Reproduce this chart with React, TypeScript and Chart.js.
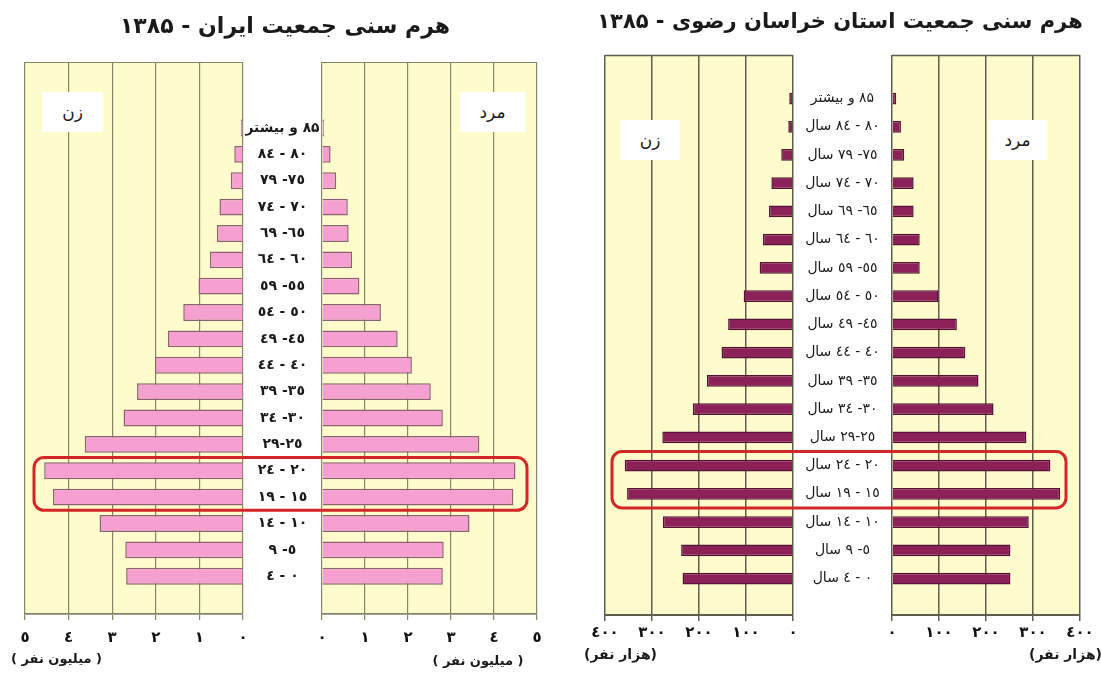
import React, { useEffect, useRef } from 'react';
import { Chart, registerables } from 'chart.js';

Chart.register(...registerables);

const W = 1101;
const H = 679;
const FONT = "'DejaVu Sans', 'Noto Sans', sans-serif";

// ---------- data (top row = 85+, bottom row = 0-4) ----------
const iranAgeLabels = [
  '۸۵ و بیشتر', '٨٠ - ٨٤', '٧٥- ٧٩', '٧٠ - ٧٤', '٦٥- ٦٩', '٦٠ - ٦٤', '٥٥- ٥٩', '٥٠ - ٥٤', '٤٥- ٤٩',
  '٤٠ - ٤٤', '٣٥- ٣٩', '٣٠- ٣٤', '٢٥-٢٩', '٢٠ - ٢٤', '١٥ - ١٩', '١٠ - ١٤', '٥- ٩', '٠ - ٤',
];
const khorasanAgeLabels = [
  '۸۵ و بیشتر', '٨٠ - ٨٤ سال', '٧٥- ٧٩ سال', '٧٠ - ٧٤ سال', '٦٥- ٦٩ سال', '٦٠ - ٦٤ سال', '٥٥- ٥٩ سال',
  '٥٠ - ٥٤ سال', '٤٥- ٤٩ سال', '٤٠ - ٤٤ سال', '٣٥- ٣٩ سال', '٣٠- ٣٤ سال', '٢٥-٢٩ سال', '٢٠ - ٢٤ سال',
  '١٥ - ١٩ سال', '١٠ - ١٤ سال', '٥- ٩ سال', '٠ - ٤ سال',
];

// Iran, millions of people
const iranWomen = [0.05, 0.2, 0.28, 0.54, 0.6, 0.76, 1.02, 1.37, 1.72, 2.02, 2.43, 2.74, 3.63, 4.56, 4.36, 3.29, 2.7, 2.68];
const iranMen = [0.05, 0.2, 0.33, 0.6, 0.62, 0.7, 0.87, 1.37, 1.76, 2.09, 2.53, 2.81, 3.66, 4.5, 4.45, 3.43, 2.83, 2.81];

// Khorasan Razavi, thousands of people
const khorasanWomen = [8, 10, 25, 46, 51, 64, 71, 105, 138, 152, 183, 213, 278, 358, 353, 277, 238, 235];
const khorasanMen = [9, 19, 26, 46, 46, 59, 59, 99, 138, 156, 184, 216, 286, 337, 358, 291, 252, 252];

const iranTicks = ['٠', '١', '٢', '٣', '٤', '٥'];
const khorasanTicks = ['٠', '١٠٠', '٢٠٠', '٣٠٠', '٤٠٠'];

const iranTitle = 'هرم سنی جمعیت ایران - ۱۳۸۵';
const khorasanTitle = 'هرم سنی جمعیت استان خراسان رضوی - ۱۳۸۵';
const womanLabel = 'زن';
const manLabel = 'مرد';
const iranUnit = '( میلیون نفر )';
const khorasanUnit = '(هزار نفر)';

// ---------- chart builder ----------
type Area = { left: number; right: number; top: number; bottom: number };
type Half = {
  values: number[];
  max: number;
  step: number;
  tickLabels: string[];
  reverse: boolean;
  area: Area;
  yMin: number;
  yMax: number;
  fill: string;
  border: string;
  barPct: number;
  grid: string;
  gridWidth: number;
  tickPad: number;
  labels?: string[];
  labelX?: number;
  labelMaxWidth?: number;
  labelFont?: string;
  box?: { left: number; right: number; from: number; to: number };
};

const AXIS_H = 36;

function makeConfig(h: Half): any {
  const panelPlugin = {
    id: 'panel',
    beforeDraw(chart: any) {
      const { ctx, chartArea: a } = chart;
      ctx.save();
      ctx.fillStyle = '#FEFCCC';
      ctx.fillRect(a.left, a.top, a.right - a.left, a.bottom - a.top);
      ctx.restore();
    },
    beforeDatasetsDraw(chart: any) {
      const { ctx, chartArea: a } = chart;
      ctx.save();
      ctx.strokeStyle = h.grid;
      ctx.lineWidth = h.gridWidth;
      ctx.beginPath();
      ctx.moveTo(a.left, a.top + 0.5);
      ctx.lineTo(a.right, a.top + 0.5);
      ctx.stroke();
      ctx.restore();
    },
    afterDatasetsDraw(chart: any) {
      const { ctx } = chart;
      const y = chart.scales.y;
      if (h.labels) {
        ctx.save();
        ctx.font = h.labelFont || `bold 14px ${FONT}`;
        ctx.fillStyle = '#1a1a1a';
        ctx.textAlign = 'center';
        ctx.textBaseline = 'middle';
        (ctx as any).direction = 'rtl';
        h.labels.forEach((lab, i) => {
          ctx.fillText(lab, h.labelX as number, y.getPixelForValue(i), h.labelMaxWidth);
        });
        ctx.restore();
      }
      if (h.box) {
        const b = h.box;
        const top = y.getPixelForValue(b.from);
        const bottom = y.getPixelForValue(b.to);
        ctx.save();
        ctx.strokeStyle = '#D42626';
        ctx.lineWidth = 3;
        ctx.beginPath();
        (ctx as any).roundRect(b.left, top, b.right - b.left, bottom - top, 10);
        ctx.stroke();
        ctx.restore();
      }
    },
  };

  return {
    type: 'bar',
    data: {
      datasets: [
        {
          data: h.values.map((v, i) => ({ x: v, y: i })),
          backgroundColor: h.fill,
          borderColor: h.border,
          borderWidth: 1.5,
          barPercentage: h.barPct,
          categoryPercentage: 1,
        },
      ],
    },
    options: {
      indexAxis: 'y',
      responsive: false,
      animation: false,
      devicePixelRatio: 1,
      events: [],
      layout: {
        autoPadding: false,
        padding: {
          left: h.area.left,
          right: W - h.area.right,
          top: h.area.top,
          bottom: H - h.area.bottom - AXIS_H,
        },
      },
      plugins: {
        legend: { display: false },
        tooltip: { enabled: false },
        title: { display: false },
      },
      scales: {
        x: {
          type: 'linear',
          position: 'bottom',
          min: 0,
          max: h.max,
          reverse: h.reverse,
          afterFit: (s: any) => {
            s.height = AXIS_H;
          },
          ticks: {
            stepSize: h.step,
            padding: h.tickPad,
            color: '#111',
            maxRotation: 0,
            autoSkip: false,
            font: { family: FONT, size: 15, weight: 'bold' },
            callback: (v: any) => h.tickLabels[Math.round(Number(v) / h.step)],
          },
          grid: {
            color: h.grid,
            lineWidth: h.gridWidth,
            tickLength: 6,
            tickColor: h.grid,
            drawTicks: true,
          },
          border: { display: true, color: h.grid, width: h.gridWidth + 0.5 },
        },
        y: {
          type: 'linear',
          min: h.yMin,
          max: h.yMax,
          reverse: true,
          display: false,
        },
      },
    },
    plugins: [panelPlugin],
  };
}

const IRAN_FILL = '#F5A0D1';
const IRAN_BORDER = '#8A6272';
const KH_FILL = '#8B2158';
const KH_BORDER = '#561236';

const halves: Half[] = [
  {
    values: iranWomen, max: 5, step: 1, tickLabels: iranTicks, reverse: true,
    area: { left: 25, right: 243, top: 62, bottom: 614 }, yMin: -1.55, yMax: 17.48,
    fill: IRAN_FILL, border: IRAN_BORDER, barPct: 0.64, grid: '#85856A', gridWidth: 1.2, tickPad: 9,
    labels: iranAgeLabels, labelX: 282.5, labelMaxWidth: 74, labelFont: `bold 14px ${FONT}`,
  },
  {
    values: iranMen, max: 5, step: 1, tickLabels: iranTicks, reverse: false,
    area: { left: 322, right: 537, top: 62, bottom: 614 }, yMin: -1.55, yMax: 17.48,
    fill: IRAN_FILL, border: IRAN_BORDER, barPct: 0.64, grid: '#85856A', gridWidth: 1.2, tickPad: 9,
    box: { left: 34, right: 527, from: 12.5, to: 14.5 },
  },
  {
    values: khorasanWomen, max: 400, step: 100, tickLabels: khorasanTicks, reverse: true,
    area: { left: 605, right: 793, top: 55, bottom: 615 }, yMin: -0.64, yMax: 17.39,
    fill: KH_FILL, border: KH_BORDER, barPct: 0.65, grid: '#5E5E4E', gridWidth: 1.5, tickPad: 3,
    labels: khorasanAgeLabels, labelX: 842.5, labelMaxWidth: 94, labelFont: `14px ${FONT}`,
  },
  {
    values: khorasanMen, max: 400, step: 100, tickLabels: khorasanTicks, reverse: false,
    area: { left: 892, right: 1080, top: 55, bottom: 615 }, yMin: -0.64, yMax: 17.39,
    fill: KH_FILL, border: KH_BORDER, barPct: 0.65, grid: '#5E5E4E', gridWidth: 1.5, tickPad: 3,
    box: { left: 612, right: 1066, from: 12.5, to: 14.5 },
  },
];

function HalfChart({ spec }: { spec: Half }) {
  const ref = useRef<HTMLCanvasElement | null>(null);
  useEffect(() => {
    if (!ref.current) return;
    const chart = new Chart(ref.current, makeConfig(spec));
    return () => chart.destroy();
  }, [spec]);
  return (
    <canvas
      ref={ref}
      width={W}
      height={H}
      style={{ position: 'absolute', left: 0, top: 0, width: W, height: H }}
    />
  );
}

const textBase: React.CSSProperties = {
  position: 'absolute',
  fontFamily: FONT,
  color: '#1a1a1a',
  direction: 'rtl',
  textAlign: 'center',
  whiteSpace: 'nowrap',
};

function Tag({ text, left, top, width, height }: { text: string; left: number; top: number; width: number; height: number }) {
  return (
    <div
      style={{
        ...textBase,
        left, top, width, height,
        lineHeight: `${height}px`,
        background: '#FFFFFF',
        fontSize: 17,
        zIndex: 5,
      }}
    >
      {text}
    </div>
  );
}

export default function App() {
  return (
    <div
      style={{
        position: 'fixed', left: 0, top: 0, width: W, height: H,
        background: '#FFFFFF', overflow: 'hidden',
      }}
    >
      {halves.map((h, i) => (
        <HalfChart key={i} spec={h} />
      ))}

      <div style={{ ...textBase, left: 90, width: 390, top: 13, fontSize: 22, fontWeight: 'bold' }}>{iranTitle}</div>
      <div style={{ ...textBase, left: 580, width: 520, top: 9, fontSize: 21, fontWeight: 'bold' }}>{khorasanTitle}</div>

      <Tag text={womanLabel} left={42} top={92} width={61} height={40} />
      <Tag text={manLabel} left={460} top={92} width={65} height={40} />
      <Tag text={womanLabel} left={620} top={120} width={60} height={40} />
      <Tag text={manLabel} left={988} top={120} width={59} height={40} />

      <div style={{ ...textBase, left: 22, width: 80, top: 651, fontSize: 13, fontWeight: 'bold' }}>{iranUnit}</div>
      <div style={{ ...textBase, left: 430, width: 96, top: 653, fontSize: 13, fontWeight: 'bold' }}>{iranUnit}</div>
      <div style={{ ...textBase, left: 585, width: 72, top: 646, fontSize: 14, fontWeight: 'bold' }}>{khorasanUnit}</div>
      <div style={{ ...textBase, left: 1032, width: 70, top: 646, fontSize: 14, fontWeight: 'bold' }}>{khorasanUnit}</div>
    </div>
  );
}
